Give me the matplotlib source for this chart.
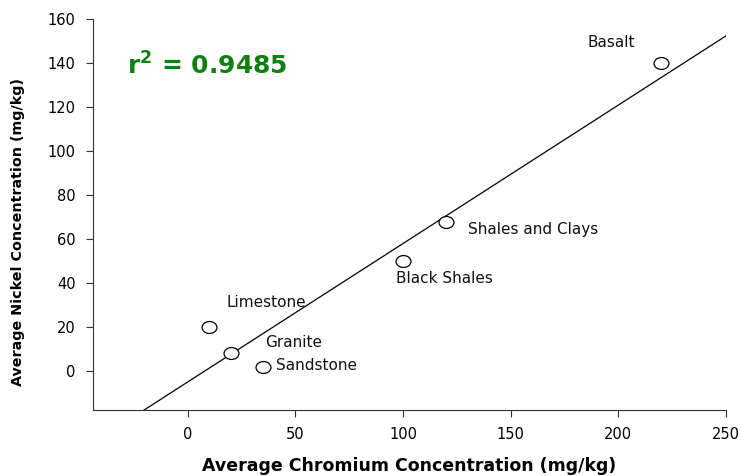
import numpy as np
import matplotlib
matplotlib.use("Agg")
import matplotlib.pyplot as plt
from matplotlib.path import Path
from matplotlib.transforms import Affine2D

rocks = ["Basalt", "Shales and Clays", "Black Shales", "Limestone", "Granite", "Sandstone"]
chromium = [220, 120, 100, 10, 20, 35]
nickel = [140, 68, 50, 20, 8, 2]
label_pos = {
    "Basalt": (197, 149.5, "center"),
    "Shales and Clays": (130, 64.5, "left"),
    "Black Shales": (97, 42, "left"),
    "Limestone": (18, 31, "left"),
    "Granite": (36, 13, "left"),
    "Sandstone": (41, 2.5, "left"),
}
r2_text = "0.9485"
xticks = [0, 50, 100, 150, 200, 250]
yticks = [0, 20, 40, 60, 80, 100, 120, 140, 160]

plt.rcParams['font.family'] = ['DejaVu Sans']
plt.rcParams['mathtext.fontset'] = 'dejavusans'

fig = plt.figure(figsize=(7.41, 4.76), dpi=100)
ax = fig.add_axes([0.1255, 0.1387, 0.854, 0.821])

x = np.array(chromium, dtype=float)
y = np.array(nickel, dtype=float)
slope, intercept = np.polyfit(x, y, 1)
xl = np.array([-44, 250])
ax.plot(xl, slope * xl + intercept, color='black', lw=0.9, zorder=2)

ell = Path.unit_circle().transformed(Affine2D().scale(1.25, 1.0))
ax.scatter(x, y, marker=ell, s=115, facecolor='white', edgecolor='black', linewidths=0.9, zorder=3)

for r in rocks:
    px, py, ha = label_pos[r]
    ax.text(px, py, r, fontsize=11, ha=ha, va='center', color='#111111')

ax.text(-28.3, 138.6, r'r$^{\mathbf{2}}$ = ' + r2_text, fontsize=18, fontweight='bold',
        color='#108010', va='center', ha='left')

ax.set_xlim(-44, 250)
ax.set_ylim(-17.7, 160)
ax.set_xticks(xticks)
ax.set_yticks(yticks)
for s in ['left', 'bottom']:
    ax.spines[s].set_color('#333333')
ax.tick_params(direction='out', length=5, width=0.8, labelsize=10.5, color='#333333')
ax.tick_params(axis='x', pad=7)
ax.tick_params(axis='y', pad=7.5)
ax.spines['top'].set_visible(False)
ax.spines['right'].set_visible(False)
ax.set_xlabel('Average Chromium Concentration (mg/kg)', fontsize=12.5, fontweight='bold')
ax.set_ylabel('Average Nickel Concentration (mg/kg)', fontsize=10.3, fontweight='bold')
ax.xaxis.set_label_coords(0.5, -0.143)
ax.yaxis.set_label_coords(-0.118, 0.455)
ax.xaxis.label.set_va('center')
ax.yaxis.label.set_va('center')

fig.savefig('out.png', dpi=100)
